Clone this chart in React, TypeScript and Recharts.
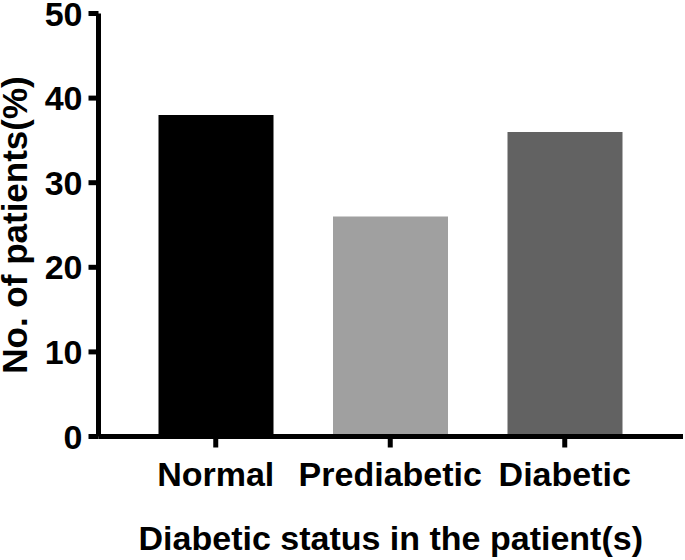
import React from "react";
import { BarChart, Bar, XAxis, YAxis, Cell } from "recharts";

const categories = ["Normal", "Prediabetic", "Diabetic"];
const percentages = [38, 26, 36];
const barColors = ["#000000", "#a0a0a0", "#626262"];
const yTicks = [0, 10, 20, 30, 40, 50];

const data = categories.map((name, i) => ({ name, value: percentages[i] }));

const FONT = "'Liberation Sans', Arial, sans-serif";
const tickStyle = { fontFamily: FONT, fontWeight: 700, fontSize: 34, fill: "#000" };

export default function App() {
  return (
    <div style={{ position: "absolute", left: 0, top: 0, width: 685, height: 560, background: "#fff" }}>
      <BarChart
        width={685}
        height={560}
        data={data}
        margin={{ top: 13.5, right: 2, bottom: 0, left: 0 }}
      >
        <XAxis
          dataKey="name"
          height={123.5}
          interval={0}
          padding={{ left: 30, right: 31 }}
          axisLine={{ stroke: "#000", strokeWidth: 5 }}
          tickLine={{ stroke: "#000", strokeWidth: 5 }}
          tickSize={11}
          tickMargin={14}
          tick={tickStyle}
          label={{
            value: "Diabetic status in the patient(s)",
            position: "insideBottom",
            offset: 10,
            style: { fontFamily: FONT, fontWeight: 700, fontSize: 34, fill: "#000" },
          }}
        />
        <YAxis
          width={98.5}
          domain={[0, 50]}
          ticks={yTicks}
          interval={0}
          axisLine={{ stroke: "#000", strokeWidth: 5 }}
          tickLine={{ stroke: "#000", strokeWidth: 5 }}
          tickSize={10}
          tickMargin={6}
          tick={tickStyle}
          label={{
            value: "No. of patients(%)",
            angle: -90,
            position: "insideLeft",
            offset: 15,
            style: { fontFamily: FONT, fontWeight: 700, fontSize: 35, fill: "#000", textAnchor: "middle" },
          }}
        />
        <Bar dataKey="value" barSize={115} isAnimationActive={false}>
          {data.map((d, i) => (
            <Cell key={d.name} fill={barColors[i]} />
          ))}
        </Bar>
      </BarChart>
    </div>
  );
}
